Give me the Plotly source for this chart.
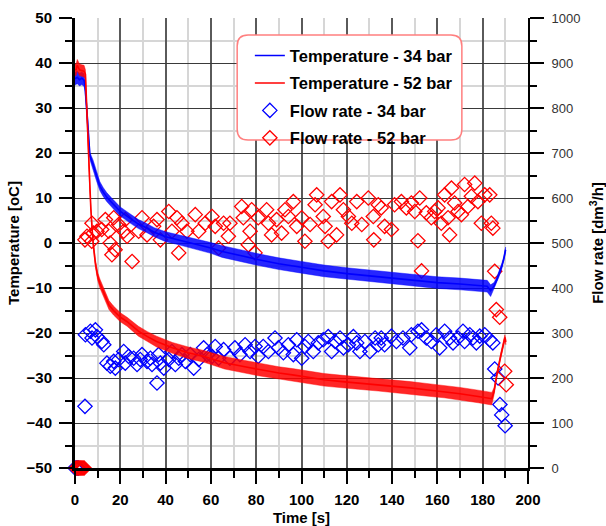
import plotly.graph_objects as go

# ---------------- data ----------------
# Temperature - 34 bar (trend of the noisy trace) and half-width of its noise band
t_temp34 = [0, 1, 2, 3, 4, 4.4, 5.3, 6, 6.6, 8, 9.5, 11, 12.5, 14, 16, 18, 20, 22, 25, 28, 31, 35, 40,
            45, 50, 55, 60, 65, 70, 75, 80, 90, 100, 110, 120, 130, 140, 150, 160, 170, 178, 182,
            183.5, 185, 186.2, 187.3, 188.4, 189.3, 190.1]
temp34 = [36.5, 36.8, 36.3, 36.6, 36.2, 35.0, 29.0, 23.0, 19.3, 17.4, 14.8, 12.6, 11.3, 10.2, 9.1, 8.0,
          7.0, 6.3, 5.2, 4.2, 3.5, 2.4, 1.4, 0.8, 0.2, -0.4, -1.1, -1.9, -2.4, -3.0, -3.6, -4.6, -5.4,
          -6.2, -6.8, -7.3, -7.8, -8.3, -8.8, -9.1, -9.4, -9.6, -10.6, -9.6, -8.2, -6.8, -5.2, -3.6, -1.5]
noise34 = [1.4, 1.4, 1.4, 1.4, 1.4, 1.2, 0.8, 0.8, 0.8, 1.0, 1.0, 1.0, 1.0, 1.0, 1.0, 1.0, 1.0, 1.0,
           1.0, 1.0, 1.0, 1.0, 1.1, 1.1, 1.1, 1.2, 1.2, 1.3, 1.3, 1.3, 1.3, 1.3, 1.3, 1.3, 1.3, 1.3,
           1.3, 1.3, 1.3, 1.3, 1.3, 1.3, 1.3, 0.8, 0.6, 0.6, 0.6, 0.6, 0.6]

# Temperature - 52 bar
t_temp52 = [0, 0.5, 1, 2, 3, 4, 4.6, 5, 5.5, 6, 6.5, 7, 7.5, 8, 9, 10, 11, 12.5, 15, 17, 20, 23, 28,
            32, 36, 43, 50, 57, 66, 75, 81, 90, 96, 105, 110, 118, 125, 134, 140, 148, 155, 163, 170,
            178, 184, 185, 186.5, 188, 189.8, 190.2]
temp52 = [38.5, 38.5, 39.5, 38.5, 38.3, 38.2, 37.5, 32.0, 25.0, 18.5, 12.5, 7.5, 3.5, 0.0, -4.5, -7.4,
          -9.0, -10.8, -13.8, -15.0, -16.5, -17.5, -19.6, -20.8, -21.9, -23.3, -24.4, -25.2, -26.6,
          -27.5, -28.1, -28.9, -29.3, -30.0, -30.4, -30.8, -31.1, -31.5, -31.8, -32.2, -32.6, -33.0,
          -33.5, -34.1, -34.6, -33.0, -28.5, -25.0, -21.0, -22.0]
noise52 = [1.3, 1.3, 1.3, 1.3, 1.3, 1.3, 1.0, 0.6, 0.6, 0.6, 0.6, 0.6, 0.6, 0.7, 0.8, 0.9, 1.0, 1.0,
           1.0, 1.0, 1.0, 1.0, 1.1, 1.1, 1.2, 1.2, 1.3, 1.3, 1.4, 1.4, 1.4, 1.4, 1.4, 1.4, 1.4, 1.4,
           1.4, 1.4, 1.4, 1.4, 1.4, 1.4, 1.4, 1.4, 1.4, 0.8, 0.6, 0.6, 0.6, 0.6]

# Flow rate - 34 bar
t_flow34 = [0, 0.5, 1.0, 1.5, 4.4, 4.6, 6.8, 9.0, 7.5, 9.7, 11.9, 12.7, 14.1, 15.6, 17.1, 17.8, 19.3,
            21.5, 22.2, 23.7, 25.9, 27.4, 28.8, 29.6, 31.8, 33.3, 34.0, 36.2, 36.9, 37.7, 39.2, 41.4,
            42.8, 44.3, 45.8, 47.2, 48.7, 50.9, 52.4, 54.6, 56.8, 58.3, 60.5, 61.9, 63.4, 65.6,
            68.4, 70.6, 72.8, 75.1, 77.3, 79.5, 80.9, 83.1, 85.4, 88.3, 89.8, 92.0, 94.2, 96.4, 97.9,
            100.1, 101.5, 103.0, 105.2, 107.4, 109.6, 111.8, 113.3, 114.8, 117.0, 118.5, 120.7, 122.9,
            124.4, 125.8, 128.0, 130.2, 132.5, 133.9, 135.2, 136.7, 139.7, 141.9, 144.8, 147.8, 148.5,
            151.4, 153.0, 155.1, 157.3, 159.5, 161.0, 163.2, 165.4, 166.9, 169.1, 171.3, 172.0, 174.3,
            175.7, 177.2, 178.7, 180.9, 183.1, 184.5, 185.3, 186.8, 187.6, 188.4, 189.9]
flow34 = [0, 0, 0, 0, 137, 296, 304, 307, 289, 292, 281, 274, 233, 226, 237, 222, 241,
          259, 233, 248, 244, 230, 241, 252, 237, 244, 230, 189, 252, 233, 222, 241,
          259, 230, 244, 252, 237, 252, 222, 241, 267, 252, 248, 270, 244, 263,
          244, 267, 252, 274, 259, 270, 248, 270, 259, 289, 267, 256, 274, 252, 285,
          244, 270, 281, 259, 278, 285, 292, 259, 281, 289, 267, 274, 292,
          278, 259, 281, 259, 289, 274, 289, 274, 293, 281, 289, 267, 296,
          304, 307, 289, 281, 296, 267, 304, 289, 278, 289, 304, 281, 296,
          289, 278, 293, 296, 285, 278, 220, 200, 141, 118, 94]

# Flow rate - 52 bar
t_flow52 = [0.5, 1, 1.5, 2, 2.5, 3, 3.5, 4,
            4.4, 5.3, 7.4, 7.5, 8.1, 9.7, 11.8, 13.4, 14.9, 15.5, 16.3, 17.1, 17.7, 19.3, 21.5, 22.2,
            23.0, 25.2, 28.1, 29.6, 31.8, 34.7, 36.2, 37.7, 41.4, 42.8, 45.0, 45.8, 47.2, 49.4, 53.1,
            54.6, 57.5, 60.5, 61.9, 63.4, 65.6,
            67.7, 68.4, 73.6, 74.3, 76.5, 77.3, 78.0, 79.5, 80.9, 84.6, 85.4, 86.8, 89.0, 91.2, 92.7,
            94.2, 96.4, 97.9, 100.1, 101.5, 103.8, 106.0, 106.7, 109.6, 110.4, 111.8, 113.3, 115.5,
            117.0, 118.5, 120.7, 122.2, 124.4, 126.6, 129.5, 131.7, 131.9, 133.9,
            135.2, 136.7, 139.7, 141.1, 144.1, 146.3, 148.5, 150.0, 151.4, 152.2, 153.0, 155.1, 157.3,
            158.8, 160.3, 161.7, 163.2, 164.7, 165.4, 166.2, 167.6, 169.1, 170.6, 172.0, 173.5, 175.0,
            176.5, 177.9, 179.4, 180.9, 183.1, 183.8, 184.5, 185.3, 186.0, 187.5, 189.7, 190.4]
flow52 = [0, 0, 0, 0, 0, 0, 0, 0,
          507, 515, 504, 544, 522, 526, 530, 552, 526, 500, 474, 556, 485, 541, 526, 552,
          515, 459, 526, 556, 518, 537, 552, 507, 570, 526, 556, 478, 544, 526, 563,
          526, 544, 559, 537, 489, 544,
          515, 544, 581, 556, 496, 526, 574, 478, 556, 574, 544, 518, 552, 522, 574,
          559, 592, 537, 556, 504, 541, 585, 607, 559, 537, 504, 592, 518,
          607, 574, 559, 544, 592, 541, 600, 559, 507, 585,
          578, 537, 530, 585, 592, 578, 589, 570, 505, 600, 438, 567, 556,
          570, 578, 544, 607, 556, 518, 622, 589, 570, 563, 630, 581, 604,
          633, 592, 544, 607, 607, 544, 533, 437, 352, 335, 215, 185]

names = ["Temperature - 34 bar", "Temperature - 52 bar", "Flow rate - 34 bar", "Flow rate - 52 bar"]
BLUE = "#0000ff"
RED = "#ff0000"

fig = go.Figure()

# flow-rate markers (right axis, drawn below the temperature traces)
for tt, ff, col, nm, rk in [(t_flow34, flow34, BLUE, names[2], 3), (t_flow52, flow52, RED, names[3], 4)]:
    fig.add_trace(go.Scatter(
        x=tt, y=ff, mode="markers", name=nm, legendrank=rk, yaxis="y", cliponaxis=False,
        marker=dict(symbol="diamond-open", size=11, color=col, line=dict(width=1.3, color=col)),
        legendgroup=nm))

# temperature traces (left axis): noise band + trend line
for tt, vv, nn, col, band, nm, rk in [
        (t_temp34, temp34, noise34, BLUE, "rgba(0,0,255,0.85)", names[0], 1),
        (t_temp52, temp52, noise52, RED, "rgba(255,0,0,0.85)", names[1], 2)]:
    up = [v + n for v, n in zip(vv, nn)]
    lo = [v - n for v, n in zip(vv, nn)]
    fig.add_trace(go.Scatter(
        x=tt + tt[::-1], y=up + lo[::-1], yaxis="y2", mode="lines", fill="toself",
        fillcolor=band, line=dict(width=0.5, color=band), showlegend=False,
        hoverinfo="skip", legendgroup=nm))
    fig.add_trace(go.Scatter(
        x=tt, y=vv, yaxis="y2", mode="lines", name=nm, legendrank=rk,
        line=dict(color=col, width=1.6), legendgroup=nm))

bold15 = dict(family="Liberation Sans, Arial, sans-serif", size=15, color="black", weight="bold")

# rounded legend frame (paper coordinates of the plot area)
x0, x1, y0, y1 = 0.358, 0.854, 0.729, 0.962
rx, ry = 0.024, 0.024
path = (f"M {x0+rx},{y1} L {x1-rx},{y1} Q {x1},{y1} {x1},{y1-ry} L {x1},{y0+ry} "
        f"Q {x1},{y0} {x1-rx},{y0} L {x0+rx},{y0} Q {x0},{y0} {x0},{y0+ry} "
        f"L {x0},{y1-ry} Q {x0},{y1} {x0+rx},{y1} Z")

fig.update_layout(
    width=606, height=526,
    margin=dict(l=75, r=78, t=18, b=58, autoexpand=False),
    paper_bgcolor="white", plot_bgcolor="white",
    showlegend=True,
    legend=dict(x=0.386, y=0.955, xanchor="left", yanchor="top",
                bgcolor="rgba(0,0,0,0)", borderwidth=0, tracegroupgap=3,
                font=dict(family="Liberation Sans, Arial, sans-serif", size=16.5, color="black",
                          weight="bold")),
    shapes=[dict(type="path", xref="paper", yref="paper", path=path, layer="above",
                 fillcolor="white", line=dict(color="#ff7f7f", width=1.5))],
    xaxis=dict(range=[0, 200], tick0=0, dtick=20, ticks="outside", ticklen=13, tickwidth=2,
               tickcolor="black", showline=True, linewidth=3, linecolor="black", mirror=False,
               showgrid=True, gridcolor="#5a5a5a", gridwidth=1.5, zeroline=False, automargin=False,
               tickfont=bold15, ticklabelstandoff=3,
               title=dict(text="Time [s]", font=bold15, standoff=8),
               minor=dict(dtick=10, ticks="outside", ticklen=7, tickwidth=2, tickcolor="black",
                          showgrid=True, gridcolor="#d6d6d6", gridwidth=1.5)),
    yaxis=dict(side="right", range=[0, 1000], tick0=0, dtick=100, ticks="outside", ticklen=14,
               tickwidth=2, tickcolor="black", showline=True, linewidth=2, linecolor="black",
               showgrid=False, zeroline=False, ticklabelstandoff=5, automargin=False,
               tickfont=dict(family="Liberation Sans, Arial, sans-serif", size=13, color="#333333"),
               title=dict(text="Flow rate [dm<sup>3</sup>/h]", font=bold15, standoff=14),
               minor=dict(dtick=50, ticks="outside", ticklen=7, tickwidth=2, tickcolor="black",
                          showgrid=False)),
    yaxis2=dict(overlaying="y", side="left", anchor="x", range=[-50, 50], tick0=-50, dtick=10,
                ticks="outside", ticklen=13, tickwidth=2, tickcolor="black", showline=True,
                linewidth=3, linecolor="black", showgrid=True, gridcolor="#3a3a3a", gridwidth=1.3,
                zeroline=False, tickfont=bold15, ticklabelstandoff=4, automargin=False,
                title=dict(text="Temperature [oC]", font=bold15, standoff=4),
                minor=dict(dtick=5, ticks="outside", ticklen=7, tickwidth=2, tickcolor="black",
                           showgrid=True, gridcolor="#d6d6d6", gridwidth=1.5)),
)

fig.write_html("out.html")
